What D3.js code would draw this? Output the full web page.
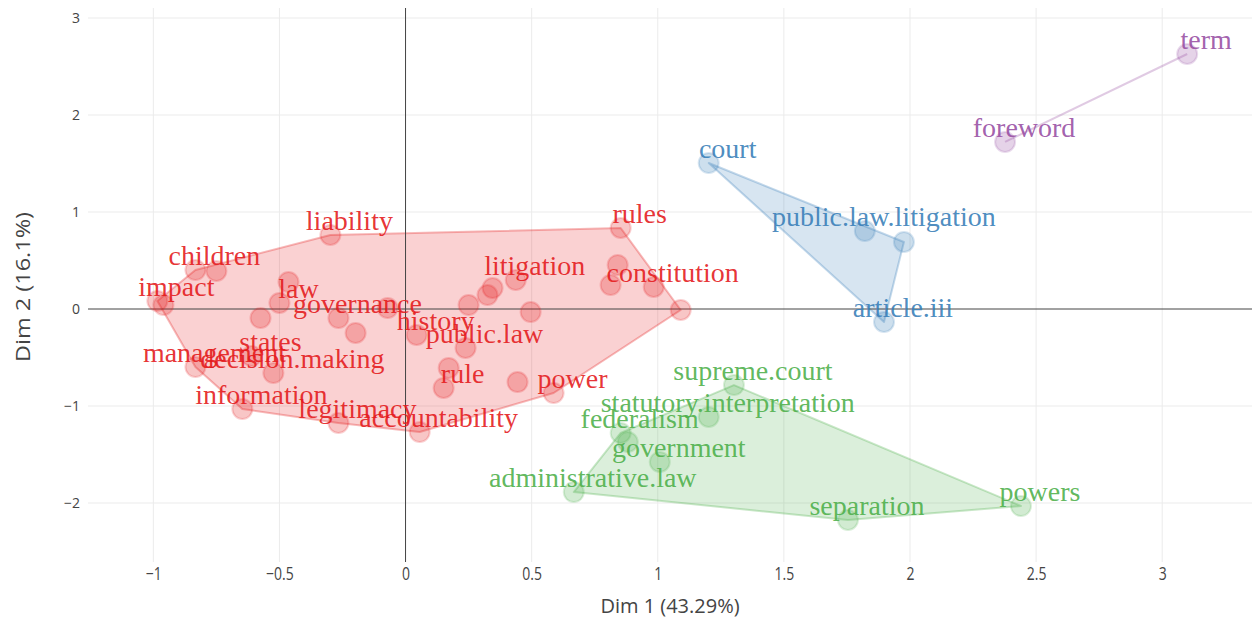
<!DOCTYPE html>
<html>
<head>
<meta charset="utf-8">
<script src="https://cdn.jsdelivr.net/npm/d3@7"></script>
<style>
  html, body { margin: 0; padding: 0; background: #fff; }
  svg { display: block; }
</style>
</head>
<body>
<svg id="chart" width="1252" height="621"></svg>
<script>
// ---- data ----
const xTicks = [-1, -0.5, 0, 0.5, 1, 1.5, 2, 2.5, 3];
const yTicks = [-2, -1, 0, 1, 2, 3];
const xTickLabels = ["\u22121", "\u22120.5", "0", "0.5", "1", "1.5", "2", "2.5", "3"];
const yTickLabels = ["\u22122", "\u22121", "0", "1", "2", "3"];
const xTitle = "Dim 1 (43.29%)";
const yTitle = "Dim 2 (16.1%)";

const clusters = ["1", "2", "3", "4"];
const clusterColors = ["#E41A1C", "#377EB8", "#4DAF4A", "#984EA3"];

// cluster 1 (red)
const c1Labels = ["impact", "", "children", "", "liability", "law", "", "", "governance", "", "",
  "history", "public.law", "", "", "", "litigation", "", "rules", "", "", "constitution", "",
  "", "rule", "", "power", "accountability", "legitimacy", "information", "management", "states", "decision.making"];
const c1X = [-0.984, -0.960, -0.833, -0.750, -0.298, -0.500, -0.464, -0.575, -0.266, -0.198, -0.071,
  0.044, 0.238, 0.250, 0.325, 0.345, 0.437, 0.496, 0.853, 0.841, 0.813, 0.984, 1.091,
  0.171, 0.151, 0.444, 0.587, 0.056, -0.266, -0.647, -0.833, -0.611, -0.524];
const c1Y = [0.082, 0.041, 0.402, 0.392, 0.763, 0.062, 0.278, -0.093, -0.093, -0.247, 0.010,
  -0.268, -0.402, 0.041, 0.144, 0.216, 0.299, -0.031, 0.835, 0.454, 0.247, 0.227, -0.010,
  -0.608, -0.814, -0.753, -0.866, -1.268, -1.175, -1.031, -0.598, -0.485, -0.660];

// cluster 2 (blue)
const c2Labels = ["court", "public.law.litigation", "", "article.iii"];
const c2X = [1.202, 1.821, 1.976, 1.897];
const c2Y = [1.505, 0.804, 0.691, -0.134];

// cluster 3 (green)
const c3Labels = ["supreme.court", "statutory.interpretation", "federalism", "", "government", "administrative.law", "separation", "powers"];
const c3X = [1.302, 1.202, 0.853, 0.881, 1.008, 0.667, 1.754, 2.440];
const c3Y = [-0.784, -1.113, -1.278, -1.371, -1.577, -1.887, -2.175, -2.031];

// cluster 4 (purple)
const c4Labels = ["term", "foreword"];
const c4X = [3.099, 2.377];
const c4Y = [2.629, 1.722];

// ---- build ----
const groups = [
  {labels: c1Labels, xs: c1X, ys: c1Y},
  {labels: c2Labels, xs: c2X, ys: c2Y},
  {labels: c3Labels, xs: c3X, ys: c3Y},
  {labels: c4Labels, xs: c4X, ys: c4Y}
].map((g, i) => ({
  cluster: clusters[i],
  color: clusterColors[i],
  pts: g.xs.map((x, j) => ({x, y: g.ys[j], label: g.labels[j]}))
}));

const plot = {left: 88, right: 1252, top: 8, bottom: 562};
const x = d3.scaleLinear().domain([-1.259, 3.356]).range([plot.left, plot.right]);
const y = d3.scaleLinear().domain([-2.608, 3.103]).range([plot.bottom, plot.top]);

const svg = d3.select("#chart");
const font = "'Open Sans', 'DejaVu Sans', sans-serif";

// grid
const grid = svg.append("g");
grid.selectAll("line.vx").data(xTicks.filter(t => t !== 0)).join("line")
  .attr("x1", d => x(d)).attr("x2", d => x(d))
  .attr("y1", plot.top).attr("y2", plot.bottom)
  .attr("stroke", "#ebebeb").attr("stroke-width", 1);
grid.selectAll("line.hy").data(yTicks.filter(t => t !== 0)).join("line")
  .attr("x1", plot.left).attr("x2", plot.right)
  .attr("y1", d => y(d)).attr("y2", d => y(d))
  .attr("stroke", "#ebebeb").attr("stroke-width", 1);

// tick labels
const xAxis = d3.axisBottom(x).tickValues(xTicks).tickFormat((d, i) => xTickLabels[i]).tickSize(0).tickPadding(0);
const gx = svg.append("g").attr("transform", `translate(0,${plot.bottom})`).call(xAxis);
gx.select(".domain").remove();
gx.selectAll("text").attr("font-family", font).attr("font-size", 14).attr("fill", "#444")
  .attr("dy", null).attr("y", 0).attr("dominant-baseline", "middle")
  .attr("transform", "translate(0,13) scale(1,1.3)");

const yAxis = d3.axisLeft(y).tickValues(yTicks).tickFormat((d, i) => yTickLabels[i]).tickSize(0).tickPadding(8);
const gy = svg.append("g").attr("transform", `translate(${plot.left},0)`).call(yAxis);
gy.select(".domain").remove();
gy.selectAll("text").attr("font-family", font).attr("font-size", 14).attr("fill", "#444");

// axis titles
svg.append("text").attr("x", 670).attr("y", 613)
  .attr("text-anchor", "middle").attr("font-family", font).attr("font-size", 20).attr("fill", "#444")
  .text(xTitle);
svg.append("text").attr("transform", `translate(30,287) rotate(-90)`)
  .attr("text-anchor", "middle").attr("font-family", font).attr("font-size", 20).attr("fill", "#444")
  .attr("textLength", 150).attr("lengthAdjust", "spacingAndGlyphs")
  .text(yTitle);

// hulls
const hullG = svg.append("g");
groups.forEach(g => {
  const pix = g.pts.map(p => [x(p.x), y(p.y)]);
  const hull = pix.length >= 3 ? d3.polygonHull(pix) : pix;
  hullG.append("path")
    .attr("d", d3.line()(hull) + (hull.length >= 3 ? "Z" : ""))
    .attr("fill", hull.length >= 3 ? g.color : "none")
    .attr("fill-opacity", 0.2)
    .attr("stroke", g.color).attr("stroke-opacity", 0.3).attr("stroke-width", 2)
    .attr("stroke-linejoin", "round");
});

// zero lines
svg.append("line").attr("x1", x(0)).attr("x2", x(0)).attr("y1", plot.top).attr("y2", plot.bottom)
  .attr("stroke", "#444").attr("stroke-width", 1);
svg.append("line").attr("x1", plot.left).attr("x2", plot.right).attr("y1", y(0)).attr("y2", y(0))
  .attr("stroke", "#444").attr("stroke-width", 1);

// points
const ptG = svg.append("g");
groups.forEach(g => {
  ptG.selectAll(null).data(g.pts).join("circle")
    .attr("cx", d => x(d.x)).attr("cy", d => y(d.y)).attr("r", 10)
    .attr("fill", g.color).attr("fill-opacity", 0.25)
    .attr("stroke", g.color).attr("stroke-opacity", 0.2).attr("stroke-width", 2);
});

// labels
const lblG = svg.append("g");
groups.forEach(g => {
  lblG.selectAll(null).data(g.pts.filter(p => p.label)).join("text")
    .attr("x", d => x(d.x) + 19).attr("y", d => y(d.y) - 11)
    .attr("text-anchor", "middle").attr("dominant-baseline", "middle")
    .attr("font-family", "'Liberation Serif', 'Times New Roman', serif").attr("font-size", 28)
    .attr("fill", g.color).attr("fill-opacity", 0.9)
    .text(d => d.label);
});
</script>
</body>
</html>
